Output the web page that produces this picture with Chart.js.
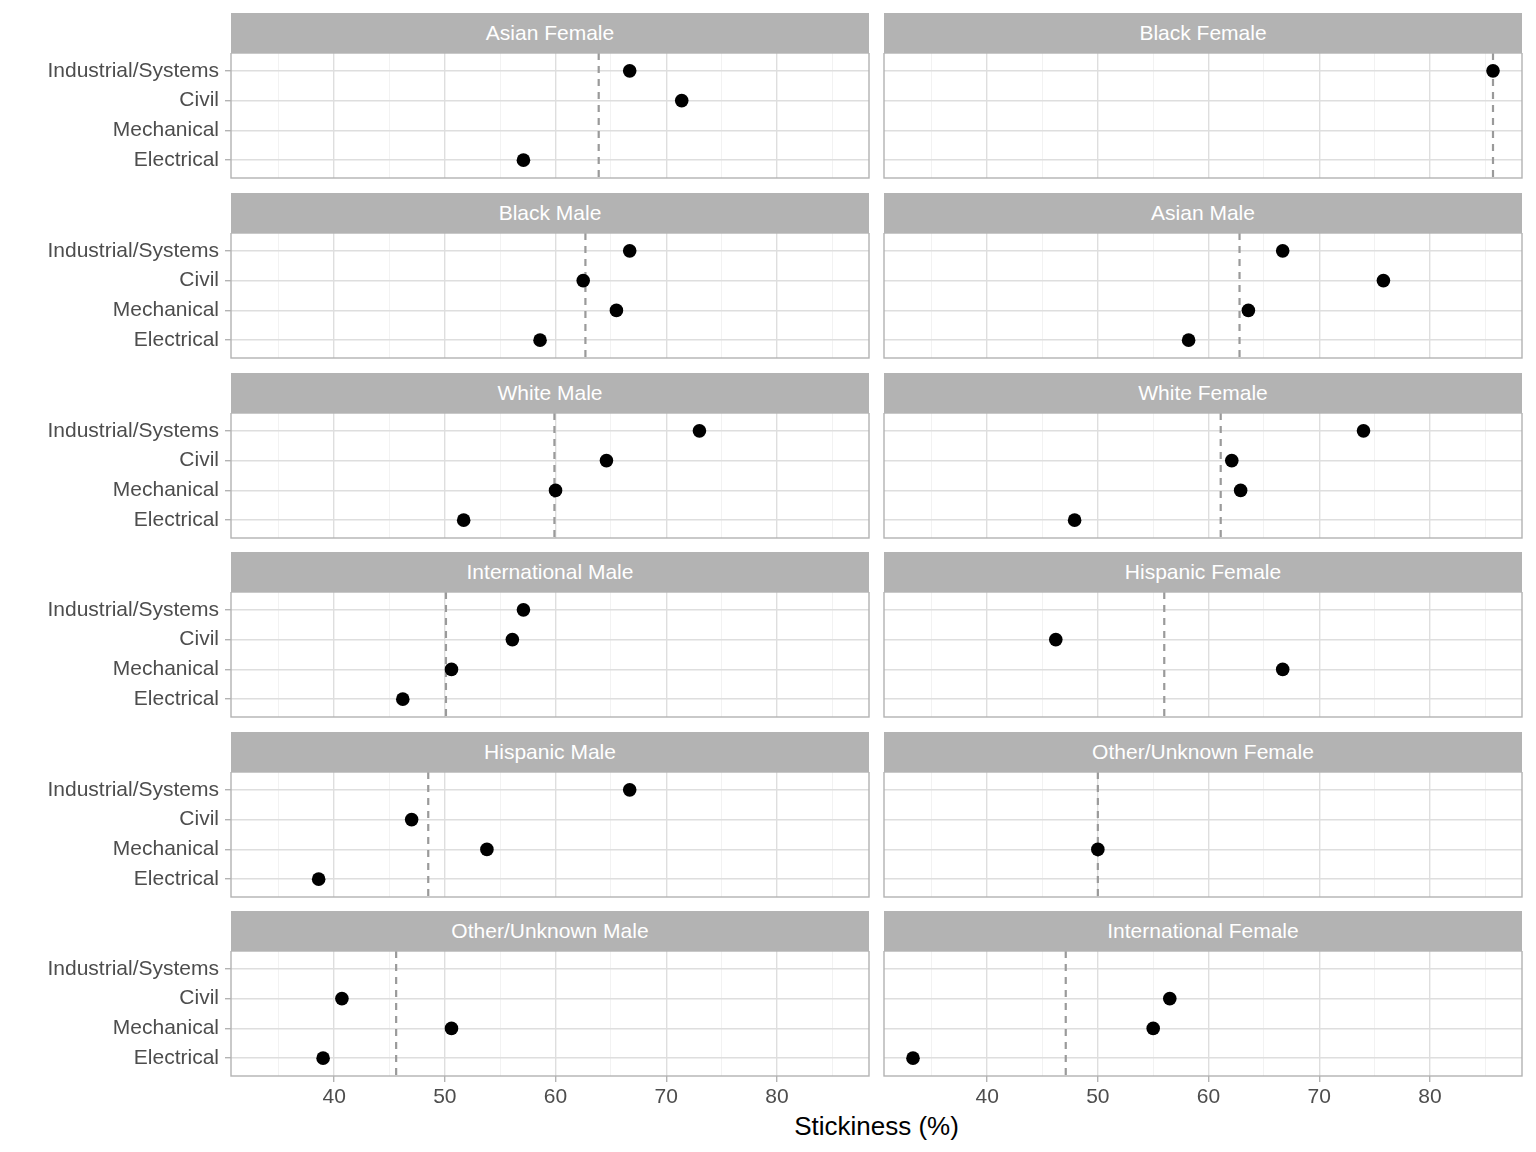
<!DOCTYPE html>
<html>
<head>
<meta charset="utf-8">
<script src="https://cdn.jsdelivr.net/npm/chart.js@4/dist/chart.umd.min.js"></script>
<style>
  body { margin: 0; background: #fff; font-family: "Liberation Sans", Arial, sans-serif; }
  #wrap { position: relative; width: 1536px; height: 1152px; overflow: hidden; }
  #wrap canvas { position: absolute; }
  .strip {
    position: absolute; background: #b3b3b3; color: #fff;
    font-size: 21px; text-align: center; height: 40px; line-height: 40px;
  }
  #xtitle {
    position: absolute; left: 231px; width: 1291px; top: 1110px;
    text-align: center; font-size: 26px; line-height: 32px; color: #000;
  }
</style>
</head>
<body>
<div id="wrap"><div id="xtitle">Stickiness (%)</div></div>
<script>
const categories = ["Industrial/Systems", "Civil", "Mechanical", "Electrical"];
const xTickLabels = [40, 50, 60, 70, 80];

const panelNames = [
  "Asian Female", "Black Female",
  "Black Male", "Asian Male",
  "White Male", "White Female",
  "International Male", "Hispanic Female",
  "Hispanic Male", "Other/Unknown Female",
  "Other/Unknown Male", "International Female"
];

// stickiness per major, same order as categories (null = no students)
const asianFemale = [66.7, 71.4, null, 57.1];
const blackFemale = [85.7, null, null, null];
const blackMale = [66.7, 62.5, 65.5, 58.6];
const asianMale = [66.7, 75.8, 63.6, 58.2];
const whiteMale = [73.0, 64.6, 60.0, 51.7];
const whiteFemale = [74.0, 62.1, 62.9, 47.9];
const internationalMale = [57.1, 56.1, 50.6, 46.2];
const hispanicFemale = [null, 46.2, 66.7, null];
const hispanicMale = [66.7, 47.0, 53.8, 38.6];
const otherFemale = [null, null, 50.0, null];
const otherMale = [null, 40.7, 50.6, 39.0];
const internationalFemale = [null, 56.5, 55.0, 33.3];

const panelValues = [
  asianFemale, blackFemale, blackMale, asianMale, whiteMale, whiteFemale,
  internationalMale, hispanicFemale, hispanicMale, otherFemale, otherMale, internationalFemale
];

// overall stickiness for each group (dashed line)
const panelMeans = [63.9, 85.7, 62.7, 62.8, 59.9, 61.1, 50.1, 56.0, 48.5, 50.0, 45.6, 47.1];

const X_MIN = 30.68, X_MAX = 88.32;
const colLeft = [231, 884];
const panelW = 638, panelH = 125, stripH = 40;
const stripTops = [13, 193, 373, 552, 732, 911];

const panelBorder = {
  id: "panelBorder",
  afterDatasetsDraw(chart) {
    const a = chart.chartArea, ctx = chart.ctx;
    ctx.save();
    ctx.strokeStyle = "#b3b3b3";
    ctx.lineWidth = 1.4;
    ctx.strokeRect(a.left, a.top, a.right - a.left, a.bottom - a.top);
    ctx.restore();
  }
};

const wrap = document.getElementById("wrap");

panelNames.forEach((name, i) => {
  const col = i % 2, row = Math.floor(i / 2);
  const isLeft = col === 0, isBottom = row === 5;
  const panelTop = stripTops[row] + stripH;

  const axisW = isLeft ? 231 : 10;
  const canvasLeft = colLeft[col] - axisW;
  const padRight = 3;
  const xAxisH = isBottom ? 45 : 3;

  const strip = document.createElement("div");
  strip.className = "strip";
  strip.style.left = colLeft[col] + "px";
  strip.style.top = stripTops[row] + "px";
  strip.style.width = panelW + "px";
  strip.textContent = name;

  const canvas = document.createElement("canvas");
  const w = axisW + panelW + padRight, h = panelH + xAxisH;
  canvas.width = w; canvas.height = h;
  canvas.style.width = w + "px"; canvas.style.height = h + "px";
  canvas.style.left = canvasLeft + "px";
  canvas.style.top = panelTop + "px";
  wrap.appendChild(canvas);
  wrap.appendChild(strip);

  const points = [];
  panelValues[i].forEach((v, k) => { if (v !== null) points.push({ x: v, y: k }); });

  new Chart(canvas.getContext("2d"), {
    type: "scatter",
    data: {
      datasets: [
        {
          data: points,
          backgroundColor: "#000",
          borderWidth: 0,
          pointRadius: 6.8,
          pointHoverRadius: 6.8,
          order: 0
        },
        {
          type: "line",
          data: [{ x: panelMeans[i], y: -0.6 }, { x: panelMeans[i], y: 3.6 }],
          borderColor: "#9a9a9a",
          borderWidth: 2.2,
          borderDash: [7, 6],
          pointRadius: 0,
          order: 1
        }
      ]
    },
    options: {
      responsive: false,
      animation: false,
      layout: { autoPadding: false, padding: { top: 0, right: padRight, bottom: 0, left: 0 } },
      plugins: { legend: { display: false }, tooltip: { enabled: false } },
      scales: {
        x: {
          type: "linear",
          min: X_MIN,
          max: X_MAX,
          afterFit: (s) => { s.height = xAxisH; s.paddingLeft = 0; s.paddingRight = 0; },
          border: { display: false },
          grid: {
            color: (c) => (c.tick.value % 10 === 0 ? "#dedede" : "#efefef"),
            lineWidth: (c) => (c.tick.value % 10 === 0 ? 1.4 : 0.8),
            drawTicks: isBottom,
            tickLength: 6,
            tickColor: (c) => (c.tick.value % 10 === 0 ? "#b3b3b3" : "rgba(0,0,0,0)")
          },
          ticks: {
            display: isBottom,
            stepSize: 5,
            includeBounds: false,
            autoSkip: false,
            maxRotation: 0,
            padding: 3,
            color: "#4d4d4d",
            font: { family: "Liberation Sans", size: 21 },
            callback: (v) => (xTickLabels.includes(v) ? String(v) : "")
          }
        },
        y: {
          type: "linear",
          min: -0.6,
          max: 3.6,
          reverse: true,
          afterFit: (s) => { s.width = axisW; s.paddingTop = 0; s.paddingBottom = 0; },
          border: { display: false },
          grid: {
            color: "#dedede",
            lineWidth: 1.4,
            drawTicks: isLeft,
            tickLength: 6,
            tickColor: "#b3b3b3"
          },
          ticks: {
            display: isLeft,
            stepSize: 1,
            includeBounds: false,
            autoSkip: false,
            padding: 6,
            color: "#4d4d4d",
            font: { family: "Liberation Sans", size: 21 },
            callback: (v) => categories[v]
          }
        }
      }
    },
    plugins: [panelBorder]
  });
});
</script>
</body>
</html>
